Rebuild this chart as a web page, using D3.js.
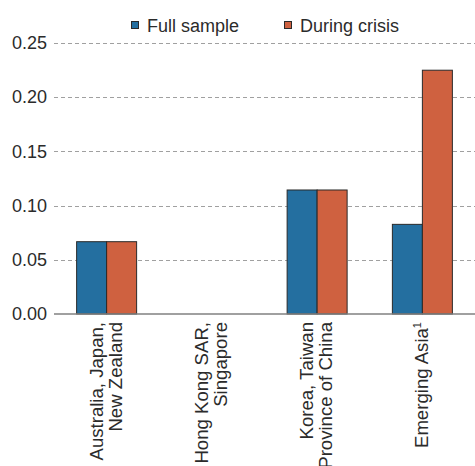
<!DOCTYPE html>
<html>
<head>
<meta charset="utf-8">
<script src="https://cdn.jsdelivr.net/npm/d3@7"></script>
<style>
  html, body { margin: 0; padding: 0; background: #fff; }
  svg { display: block; font-family: "Liberation Sans", Arial, Helvetica, sans-serif; }
</style>
</head>
<body>
<svg id="chart" width="475" height="466"></svg>
<script>
// ---- data ----
const categories = [
  ["Australia, Japan,", "New Zealand"],
  ["Hong Kong SAR,", "Singapore"],
  ["Korea, Taiwan", "Province of China"],
  ["Emerging Asia"]
];
const categorySup = ["", "", "", "1"];
const seriesNames = ["Full sample", "During crisis"];
const fullSample = [0.0667, null, 0.1144, 0.0827];
const duringCrisis = [0.0667, null, 0.1144, 0.2249];
const yTicks = [0.00, 0.05, 0.10, 0.15, 0.20, 0.25];
const seriesColors = ["#246fa0", "#cf6140"];

// ---- layout ----
const W = 475, H = 466;
const margin = { left: 54, right: 0, top: 43, bottom: 152 };
const svg = d3.select("#chart");
const textColor = "#2b2b2b";
const fontSize = 18;
const labelFontSize = 18.6;

const catIdx = d3.range(categories.length);
const x0 = d3.scaleBand()
  .domain(catIdx)
  .range([margin.left, W - margin.right])
  .paddingInner(0.43)
  .paddingOuter(0.215);
const x1 = d3.scaleBand()
  .domain(d3.range(seriesNames.length))
  .range([0, x0.bandwidth()]);
const y = d3.scaleLinear()
  .domain([0, 0.25])
  .range([H - margin.bottom, margin.top]);

// gridlines
const grid = svg.append("g");
grid.selectAll("line")
  .data(yTicks.filter(t => t > 0))
  .join("line")
  .attr("x1", margin.left)
  .attr("x2", W - margin.right)
  .attr("y1", d => Math.round(y(d)) + 0.5)
  .attr("y2", d => Math.round(y(d)) + 0.5)
  .attr("stroke", "#a0a0a0")
  .attr("stroke-width", 1)
  .attr("stroke-dasharray", "4,3");

// y axis labels
const yAxis = d3.axisLeft(y)
  .tickValues(yTicks)
  .tickFormat(d3.format(".2f"))
  .tickSize(0)
  .tickPadding(7);
const yg = svg.append("g")
  .attr("transform", `translate(${margin.left},0)`)
  .call(yAxis);
yg.select(".domain").remove();
yg.selectAll("text")
  .attr("font-size", fontSize)
  .attr("font-family", "Liberation Sans, Arial, sans-serif")
  .attr("fill", textColor);

// bars
const seriesData = [fullSample, duringCrisis];
const barG = svg.append("g");
catIdx.forEach(ci => {
  seriesData.forEach((arr, si) => {
    const v = arr[ci];
    if (v == null) return;
    barG.append("rect")
      .attr("x", x0(ci) + x1(si))
      .attr("y", y(v))
      .attr("width", x1.bandwidth())
      .attr("height", y(0) - y(v))
      .attr("fill", seriesColors[si])
      .attr("stroke", "#2a2a2a")
      .attr("stroke-width", 1);
  });
});

// zero axis line
svg.append("line")
  .attr("x1", margin.left)
  .attr("x2", W - margin.right)
  .attr("y1", y(0))
  .attr("y2", y(0))
  .attr("stroke", "#808080")
  .attr("stroke-width", 1.5);

// category labels (rotated)
const lineH = 19;
const labG = svg.append("g");
catIdx.forEach(ci => {
  const lines = categories[ci];
  const cx = x0(ci) + x0.bandwidth() / 2;
  const n = lines.length;
  lines.forEach((ln, li) => {
    const bx = cx + (li - (n - 1) / 2) * lineH + 5.5;
    const t = labG.append("text")
      .attr("transform", `translate(${bx},${y(0) + 8}) rotate(-90)`)
      .attr("text-anchor", "end")
      .attr("font-size", labelFontSize)
      .attr("fill", textColor);
    t.append("tspan").text(ln);
    if (li === n - 1 && categorySup[ci]) {
      t.append("tspan")
        .attr("font-size", 11)
        .attr("dy", -7)
        .text(categorySup[ci]);
    }
  });
});

// legend
const legendX = [131, 284];
const leg = svg.append("g");
seriesNames.forEach((name, i) => {
  leg.append("rect")
    .attr("x", legendX[i] + 0.5)
    .attr("y", 21.5)
    .attr("width", 7)
    .attr("height", 7)
    .attr("fill", seriesColors[i])
    .attr("stroke", "#2a2a2a")
    .attr("stroke-width", 1);
  leg.append("text")
    .attr("x", legendX[i] + 16)
    .attr("y", 32)
    .attr("font-size", fontSize)
    .attr("fill", textColor)
    .text(name);
});
</script>
</body>
</html>
